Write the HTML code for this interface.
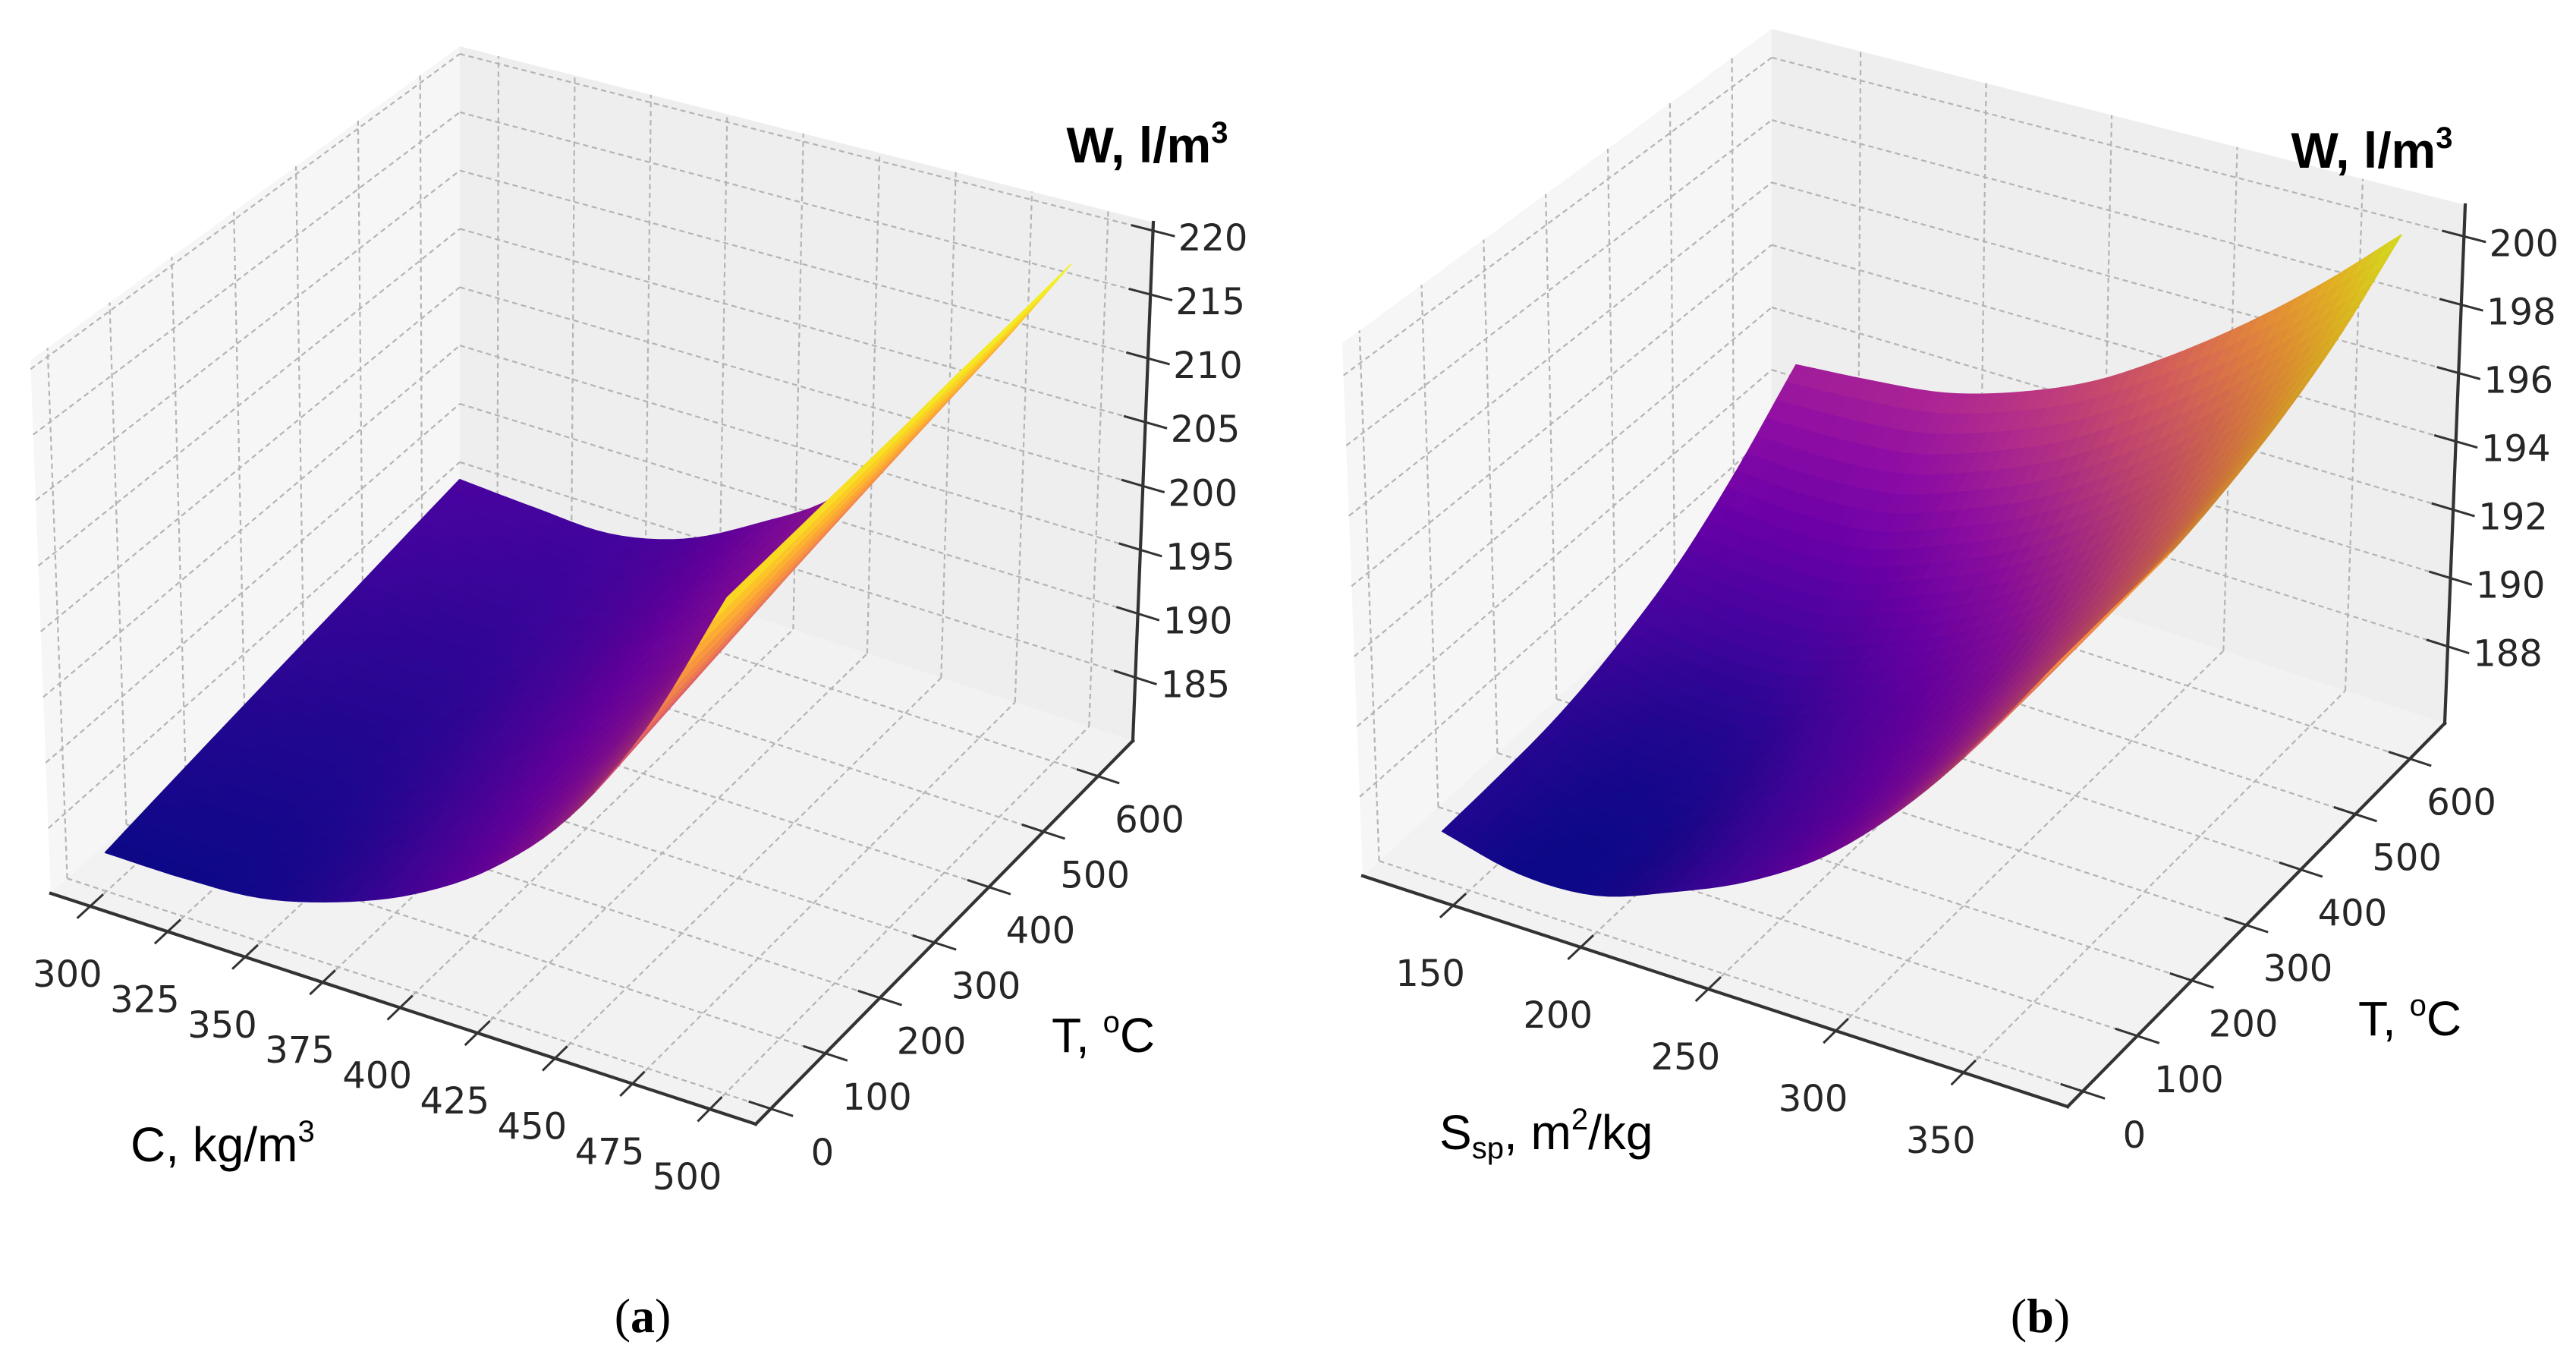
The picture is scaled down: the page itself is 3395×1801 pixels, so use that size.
<!DOCTYPE html>
<html><head><meta charset="utf-8"><title>W surfaces</title>
<style>html,body{margin:0;padding:0;background:#fff}svg{display:block}</style></head>
<body>
<svg id="fig" width="3395" height="1801" viewBox="0 0 3395 1801">
<rect x="0" y="0" width="3395" height="1801" fill="#fff"/>
<g id="pa"></g>
<g id="pb"></g>
<text x="847" y="1755" font-family="Liberation Serif, serif" font-size="64" text-anchor="middle" fill="#000">(<tspan font-weight="bold">a</tspan>)</text>
<text x="2689" y="1755" font-family="Liberation Serif, serif" font-size="64" text-anchor="middle" fill="#000">(<tspan font-weight="bold">b</tspan>)</text>
<g font-family="Liberation Sans, sans-serif" fill="#000">
<text x="1512" y="214" font-size="66" font-weight="bold" text-anchor="middle">W, l/m<tspan font-size="40" dy="-26">3</tspan></text>
<text x="1386" y="1386" font-size="64">T, <tspan font-size="40" dy="-26">o</tspan><tspan dy="26">C</tspan></text>
<text x="172" y="1530" font-size="64">C, kg/m<tspan font-size="40" dy="-26">3</tspan></text>
<text x="3126" y="221" font-size="66" font-weight="bold" text-anchor="middle">W, l/m<tspan font-size="40" dy="-26">3</tspan></text>
<text x="3108" y="1364" font-size="64">T, <tspan font-size="40" dy="-26">o</tspan><tspan dy="26">C</tspan></text>
<text x="1897" y="1514" font-size="64">S<tspan font-size="40" dy="12">sp</tspan><tspan dy="-12">, m</tspan><tspan font-size="40" dy="-26">2</tspan><tspan dy="26">/kg</tspan></text>
</g>
</svg>
<script>
// ---------- data: panel a ----------
const aX = [300,325,350,375,400,425,450,475,500];
const aT = [0,100,200,300,400,500,600];
const aW0 = [183.0,183.0,183.4,185.0,187.5,191.3,197.0,205.5,217.0];
const aW1 = [183.7,183.6,183.9,185.5,188.2,192.0,197.9,206.3,217.3];
const aW2 = [184.4,184.2,184.5,186.1,188.9,192.7,198.8,207.1,217.6];
const aW3 = [185.1,184.8,185.0,186.7,189.5,193.4,199.8,207.9,217.9];
const aW4 = [185.8,185.5,185.6,187.2,190.2,194.1,200.7,208.7,218.3];
const aW5 = [186.6,186.2,186.2,187.8,190.8,194.8,201.6,209.5,218.6];
const aW6 = [187.4,187.0,186.8,188.3,191.5,195.5,202.5,210.3,219.0];
const aXTicks = [300,325,350,375,400,425,450,475,500];
const aTTicks = [0,100,200,300,400,500,600];
const aZTicks = [185,190,195,200,205,210,215,220];
// ---------- data: panel b ----------
const bX = [140,170,200,230,260,290,320,350,380];
const bT = [0,100,200,300,400,500,600];
const bW0 = [187.2,186.7,186.8,187.6,188.6,190.0,192.0,194.5,197.4];
const bW1 = [187.3,186.8,186.9,187.7,188.7,190.1,192.1,194.6,197.5];
const bW2 = [187.5,187.1,187.2,188.0,189.0,190.4,192.4,194.8,197.6];
const bW3 = [188.0,187.6,187.7,188.5,189.5,190.9,192.9,195.2,198.0];
const bW4 = [188.8,188.6,188.7,189.5,190.5,191.9,193.8,196.0,198.6];
const bW5 = [190.1,190.0,190.2,191.0,192.0,193.4,195.1,197.2,199.5];
const bW6 = [191.8,192.0,192.3,193.0,194.0,195.4,197.0,198.8,200.8];
const bXTicks = [150,200,250,300,350];
const bTTicks = [0,100,200,300,400,500,600];
const bZTicks = [188,190,192,194,196,198,200];

const NS = 'http://www.w3.org/2000/svg';
function mk(parent, tag, attrs){
  const el = document.createElementNS(NS, tag);
  for (const k in attrs) el.setAttribute(k, attrs[k]);
  parent.appendChild(el);
  return el;
}
const B = [[67,1177],[996,1481],[1493,976],[606,685]];
const TP = [[40,475],[1000,760],[1520,293],[606,61]];
function bil(P,u,v){
  return [(1-u)*(1-v)*P[0][0]+u*(1-v)*P[1][0]+u*v*P[2][0]+(1-u)*v*P[3][0],
          (1-u)*(1-v)*P[0][1]+u*(1-v)*P[1][1]+u*v*P[2][1]+(1-u)*v*P[3][1]];
}
const plasma = ['#0d0887','#41049d','#6a00a8','#8f0da4','#b12a90','#cc4778','#e16462','#f2844b','#fca636','#fcce25','#f0f921'];
function hex(h){return [parseInt(h.substr(1,2),16),parseInt(h.substr(3,2),16),parseInt(h.substr(5,2),16)];}
function cmapRGB(t){
  t=Math.max(0,Math.min(1,t)); const s=t*10, i=Math.min(9,Math.floor(s)), f=s-i;
  const a=hex(plasma[i]), b=hex(plasma[i+1]);
  return [0,1,2].map(k=>a[k]+(b[k]-a[k])*f);
}
function cr1(arr, f){
  const n=arr.length; let i=Math.min(n-2,Math.max(0,Math.floor(f))); const t=f-i;
  const p0=arr[Math.max(0,i-1)], p1=arr[i], p2=arr[i+1], p3=arr[Math.min(n-1,i+2)];
  const m1=(p2-p0)/((i+1)-Math.max(0,i-1)), m2=(p3-p1)/(Math.min(n-1,i+2)-i);
  const t2=t*t, t3=t2*t;
  return (2*t3-3*t2+1)*p1+(t3-2*t2+t)*m1+(-2*t3+3*t2)*p2+(t3-t2)*m2;
}
function smoothW(W, fi, fj){
  const col = W.map(row=>cr1(row, fi));
  return cr1(col, fj);
}
const EYE=[0.433,-0.75,0.5];
const LIGHT=(()=>{const l=[0.8,-0.3,0.5];const m=Math.hypot(...l);return l.map(x=>x/m);})();

function drawPanel(g, cfg){
  const ox=cfg.ox, oy=cfg.oy;
  const xr=cfg.xr, tr=cfg.tr, zr=cfg.zr;
  const U=x=>(x-xr[0])/(xr[1]-xr[0]);
  const V=t=>(t-tr[0])/(tr[1]-tr[0]);
  const Wn=z=>(z-zr[0])/(zr[1]-zr[0]);
  function P(u,v,w){const b=bil(B,u,v), t=bil(TP,u,v); return [ox+b[0]+(t[0]-b[0])*w, oy+b[1]+(t[1]-b[1])*w];}
  const pts=a=>a.map(p=>p[0].toFixed(1)+','+p[1].toFixed(1)).join(' ');
  const floor = mk(g,'polygon',{points:pts([P(0,0,0),P(1,0,0),P(1,1,0),P(0,1,0)]),fill:'#f2f2f2'});
  
  
  const left = mk(g,'polygon',{points:pts([P(0,0,0),P(0,1,0),P(0,1,1),P(0,0,1)]),fill:'#f6f6f6'});
  
  
  const back = mk(g,'polygon',{points:pts([P(0,1,0),P(1,1,0),P(1,1,1),P(0,1,1)]),fill:'#eeeeee'});
  
  
  const grid = mk(g,'g',{stroke:'#b4b4b4','stroke-width':2.2,'stroke-dasharray':'7,5',fill:'none'});
  
  
  function gl(a,b){const l=mk(grid,'line',{x1:a[0],y1:a[1],x2:b[0],y2:b[1]});
    
    }
  cfg.xt.forEach(x=>{const u=U(x); gl(P(u,0,0),P(u,1,0)); gl(P(u,1,0),P(u,1,1));});
  cfg.tt.forEach(t=>{const v=V(t); gl(P(0,v,0),P(1,v,0)); gl(P(0,v,0),P(0,v,1));});
  cfg.zt.forEach(z=>{const w=Wn(z); gl(P(0,0,w),P(0,1,w)); gl(P(0,1,w),P(1,1,w));});
  const surf = mk(g,'g',{});
  
  
  const X=cfg.X, T=cfg.T, W=cfg.W;
  let wmin=Infinity,wmax=-Infinity; W.forEach(r=>r.forEach(v=>{wmin=Math.min(wmin,v);wmax=Math.max(wmax,v);}));
  const quads=[]; const n=6;
  for(let j=0;j<T.length-1;j++) for(let i=0;i<X.length-1;i++){
    for(let b=0;b<n;b++) for(let a=0;a<n;a++){
      const corner=(fa,fb)=>{
        const x=X[i]+(X[i+1]-X[i])*fa, t=T[j]+(T[j+1]-T[j])*fb;
        const w=smoothW(W, i+fa, j+fb);
        return [U(x),V(t),Wn(w),w];
      };
      const c=[corner(a/n,b/n),corner((a+1)/n,b/n),corner((a+1)/n,(b+1)/n),corner(a/n,(b+1)/n)];
      let du=0,dv=0,dw=0,wv=0; c.forEach(q=>{du+=q[0]/4;dv+=q[1]/4;dw+=q[2]/4;wv+=q[3]/4;});
      const depth=1.732*du-3*dv+1.5*dw;
      // face normal in box space for shading
      const s=q=>[q[0]*4,q[1]*4,q[2]*3];
      const d1=s(c[2]).map((x,k)=>x-s(c[0])[k]), d2=s(c[3]).map((x,k)=>x-s(c[1])[k]);
      let nm=[d1[1]*d2[2]-d1[2]*d2[1], d1[2]*d2[0]-d1[0]*d2[2], d1[0]*d2[1]-d1[1]*d2[0]];
      const mg=Math.hypot(...nm)||1; nm=nm.map(x=>x/mg);
      if(nm[0]*EYE[0]+nm[1]*EYE[1]+nm[2]*EYE[2]<0) nm=nm.map(x=>-x);
      const dl=nm[0]*LIGHT[0]+nm[1]*LIGHT[1]+nm[2]*LIGHT[2];
      const fac=Math.min(1,(0.55+0.45*(dl+1)/2)/0.86);
      const rgb=cmapRGB((wv-wmin)/(wmax-wmin)).map(x=>Math.round(x*fac));
      quads.push({d:depth,p:c.map(q=>P(q[0],q[1],q[2])),col:'rgb('+rgb.join(',')+')'});
    }
  }
  quads.sort((p,q)=>p.d-q.d);
  quads.forEach(q=>{
    const el=mk(surf,'polygon',{points:pts(q.p),fill:q.col,stroke:q.col,'stroke-width':1.6,'stroke-linejoin':'round'});
    
    
  });
  const ax = mk(g,'g',{stroke:'#333','stroke-width':4.2,fill:'none','stroke-linecap':'square'});
  
  
  function al(a,b,name){const l=mk(ax,'line',{x1:a[0],y1:a[1],x2:b[0],y2:b[1]});
    
    }
  al(P(0,0,0),P(1,0,0),'x-axis-line');
  al(P(1,0,0),P(1,1,0),'t-axis-line');
  al(P(1,1,0),P(1,1,1),'z-axis-line');
  const lab = mk(g,'g',{'font-family':'DejaVu Sans, sans-serif','font-size':48,fill:'#262626','text-anchor':'middle','dominant-baseline':'central'});
  
  
  function tick(a,b,name){const l=mk(ax,'line',{x1:a[0],y1:a[1],x2:b[0],y2:b[1],'stroke-width':3});
    
    }
  function tl(p,s,name){const t=mk(lab,'text',{x:p[0].toFixed(1),y:p[1].toFixed(1)}); t.textContent=s;
    
    }
  cfg.xt.forEach(x=>{const u=U(x); tick(P(u,-0.03,0),P(u,0.03,0),'x-tick'); const p=P(u,0,0); tl([p[0]-30,p[1]+90],String(x),'x-tick-label');});
  cfg.tt.forEach(t=>{const v=V(t); tick(P(0.97,v,0),P(1.03,v,0),'t-tick'); const p=P(1,v,0); tl([p[0]+68,p[1]+58],String(t),'t-tick-label');});
  cfg.zt.forEach(z=>{const w=Wn(z); tick(P(0.97,1,w),P(1.03,1,w),'z-tick'); const p=P(1,1,w); tl([p[0]+79,p[1]+10],String(z),'z-tick-label');});
}

drawPanel(document.getElementById('pa'),{ox:0,oy:0,xr:[287.3,514.8],tr:[-27.7,663.9],zr:[180.04,220.65],
  X:aX,T:aT,W:[aW0,aW1,aW2,aW3,aW4,aW5,aW6],xt:aXTicks,tt:aTTicks,zt:aZTicks});
drawPanel(document.getElementById('pb'),{ox:1729,oy:-23,xr:[114.6,390.8],tr:[-27.7,663.9],zr:[185.75,200.92],
  X:bX,T:bT,W:[bW0,bW1,bW2,bW3,bW4,bW5,bW6],xt:bXTicks,tt:bTTicks,zt:bZTicks});
</script>
</body></html>
